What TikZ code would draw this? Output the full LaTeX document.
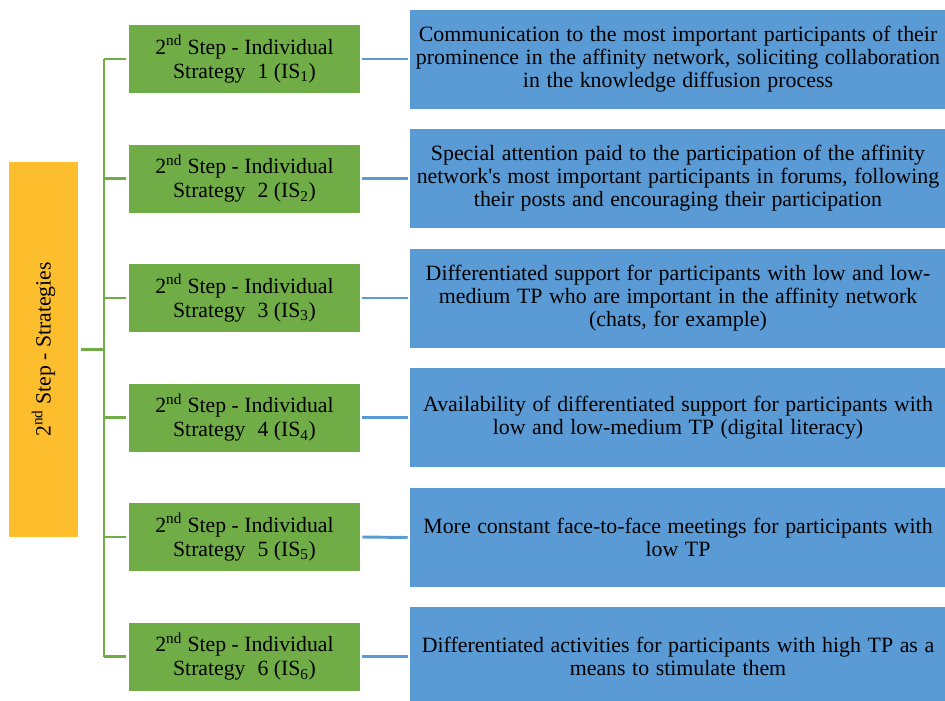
\documentclass[tikz,border=0pt]{standalone}
\usepackage{fontspec}
\setmainfont{Liberation Serif}
\newfontfamily\tnr{Liberation Serif}
\newcommand{\bluefont}{\tnr\fontsize{16.4}{17.3}\selectfont\spaceskip=0.3em plus 0.1em\relax}
\definecolor{gfill}{RGB}{112,173,71}
\definecolor{bfill}{RGB}{91,155,213}
\definecolor{ofill}{RGB}{252,190,45}
\tikzset{
  gbox/.style={fill=gfill, draw=none, minimum width=173.25pt, minimum height=51pt, inner sep=0pt, align=center, font=\tnr\fontsize{16.3}{18}\selectfont},
  bbox/.style={fill=bfill, draw=none, minimum width=402pt, minimum height=74.25pt, inner sep=0pt, align=center, font=\bluefont},
  obox/.style={fill=ofill, draw=none, minimum width=281.25pt, minimum height=51.75pt, inner sep=0pt, align=center, rotate=90, font=\tnr\fontsize{16.3}{18}\selectfont},
  gline/.style={draw=gfill, line width=1.6pt},
  bline/.style={draw=bfill, line width=2.2pt}
}
\newcommand{\stp}[1]{2\textsuperscript{nd} Step - Individual\\Strategy\hspace{0.55em}#1 (IS\textsubscript{#1})}
\begin{document}
\begin{tikzpicture}[x=0.75pt,y=-0.75pt]
\fill[white] (0,0) rectangle (945,700);
\useasboundingbox (0,0) rectangle (945,700);
\clip (0,0) rectangle (945,700);

\node[obox] (o) at (43.5,349.5) {2\textsuperscript{nd} Step - Strategies};

\foreach \i in {1,...,6}{
  \node[gbox] (g\i) at (244.5,{59+119.5*(\i-1)}) {\stp{\i}};
  \coordinate (t\i) at (104,{59+119.5*(\i-1)});
}
\coordinate (tm) at (104,349.5);

\node[bbox] (b1) at (678,59) {Communication to the most important participants of their\\prominence in the affinity network, soliciting collaboration\\in the knowledge diffusion process};
\node[bbox] (b2) at (678,178.5) {Special attention paid to the participation of the affinity\\network's most important participants in forums, following\\their posts and encouraging their participation};
\node[bbox] (b3) at (678,298) {Differentiated support for participants with low and low-\\medium TP who are important in the affinity network\\(chats, for example)};
\node[bbox] (b4) at (678,417.5) {Availability of differentiated support for participants with\\low and low-medium TP (digital literacy)};
\node[bbox] (b5) at (678,537.5) {More constant face-to-face meetings for participants with\\low TP};
\node[bbox] (b6) at (678,656.5) {Differentiated activities for participants with high TP as a\\means to stimulate them};

\draw[gline] (t1) -- (t6);
\draw[gline] ([xshift=2pt]o.south) -- (tm);
\foreach \i in {1,...,6}{
  \draw[gline] (t\i) -- ([xshift=-2pt]g\i.west);
  \draw[bline] ([xshift=1.5pt]g\i.east) -- ([xshift=-1.5pt]b\i.west);
}
\end{tikzpicture}
\end{document}
